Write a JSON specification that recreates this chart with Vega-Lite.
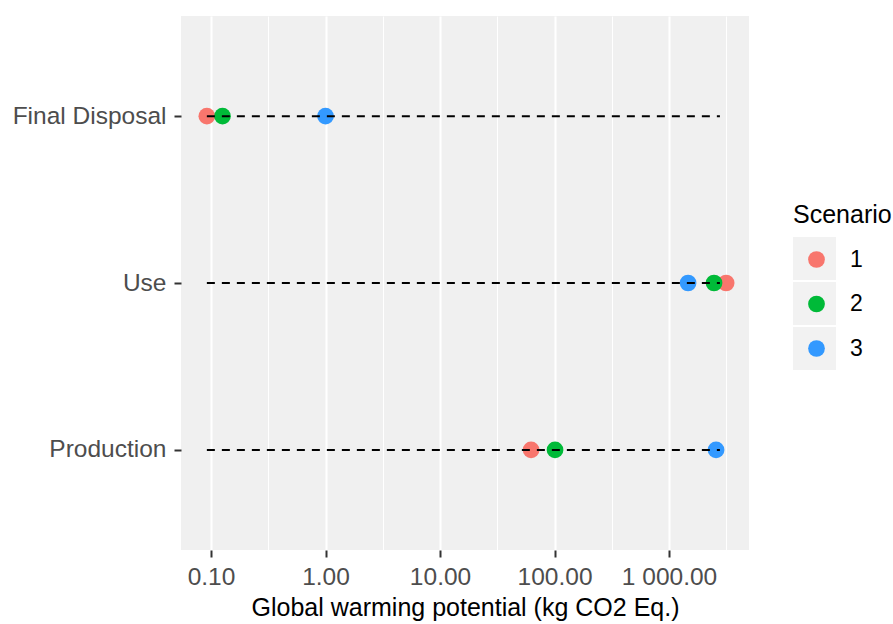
{
  "$schema": "https://vega.github.io/schema/vega-lite/v6.json",
  "autosize": {"type": "none"},
  "padding": {"left": 181, "top": 16, "right": 144, "bottom": 74},
  "width": 568,
  "height": 534,
  "background": "white",
  "config": {
    "font": "Liberation Sans",
    "view": {"fill": "#F0F0F0", "stroke": null},
    "axis": {"domain": false, "gridColor": "white", "tickColor": "#333333", "tickWidth": 2, "tickSize": 7, "labelColor": "#4D4D4D", "labelFontSize": 24.5, "titleColor": "black", "titleFontSize": 25, "titleFontWeight": "normal"}
  },
  "datasets": {
    "points": [
      {"stage": "Final Disposal", "Scenario": "1", "value": 0.092},
      {"stage": "Final Disposal", "Scenario": "2", "value": 0.126},
      {"stage": "Final Disposal", "Scenario": "3", "value": 1.0},
      {"stage": "Use", "Scenario": "1", "value": 3150},
      {"stage": "Use", "Scenario": "2", "value": 2470},
      {"stage": "Use", "Scenario": "3", "value": 1466},
      {"stage": "Production", "Scenario": "1", "value": 62.4},
      {"stage": "Production", "Scenario": "2", "value": 101},
      {"stage": "Production", "Scenario": "3", "value": 2573}
    ],
    "segments": [
      {"stage": "Final Disposal", "from": 0.092, "to": 2780},
      {"stage": "Use", "from": 0.092, "to": 2780},
      {"stage": "Production", "from": 0.092, "to": 2780}
    ]
  },
  "layer": [
    {
      "data": {"name": "points"},
      "mark": {"type": "square", "opacity": 1, "size": 100},
      "encoding": {
        "x": {
          "field": "value", "type": "quantitative",
          "scale": {"type": "log", "domain": [0.0547, 4990], "nice": false, "zero": false},
          "axis": {
            "title": "Global warming potential (kg CO2 Eq.)",
            "values": [0.1, 0.31623, 1, 3.1623, 10, 31.623, 100, 316.23, 1000, 3162.3],
            "labelExpr": "abs(log(datum.value)/LN10 - round(log(datum.value)/LN10)) < 0.01 ? replace(format(datum.value, ',.2f'), ',', ' ') : ''",
            "gridWidth": {"condition": {"test": "abs(log(datum.value)/LN10 - round(log(datum.value)/LN10)) < 0.01", "value": 2}, "value": 1},
            "tickOpacity": {"condition": {"test": "abs(log(datum.value)/LN10 - round(log(datum.value)/LN10)) < 0.01", "value": 1}, "value": 0},
            "labelPadding": 8,
            "titlePadding": 7,
            "labelFlush": false,
            "labelOverlap": false
          }
        },
        "y": {
          "field": "stage", "type": "nominal",
          "sort": ["Final Disposal", "Use", "Production"],
          "scale": {"type": "point", "padding": 0.6},
          "axis": {"title": null, "gridWidth": 2, "labelPadding": 8}
        },
        "color": {
          "field": "Scenario", "type": "nominal",
          "scale": {"range": ["#F2F2F2", "#F2F2F2", "#F2F2F2"]},
          "legend": {
            "orient": "none", "legendX": 612, "legendY": 221,
            "title": null, "labelExpr": "''", "labelFontSize": 1,
            "symbolSize": 1849, "symbolType": "square", "symbolStrokeWidth": 0,
            "rowPadding": 2, "zindex": 0
          }
        }
      }
    },
    {
      "data": {"name": "points"},
      "mark": {"type": "circle", "opacity": 1, "size": 280},
      "encoding": {
        "x": {"field": "value", "type": "quantitative"},
        "y": {"field": "stage", "type": "nominal", "sort": ["Final Disposal", "Use", "Production"]},
        "fill": {
          "field": "Scenario", "type": "nominal",
          "scale": {"domain": ["1", "2", "3"], "range": ["#F8766D", "#00BA38", "#3399FF"]},
          "legend": {
            "orient": "none", "legendX": 612, "legendY": 187,
            "title": "Scenario", "titleFontSize": 25, "titleFontWeight": "normal", "titleColor": "black",
            "labelFontSize": 23, "labelColor": "black",
            "symbolSize": 280, "symbolType": "circle", "symbolOffset": 12,
            "labelOffset": 22, "rowPadding": 20.5, "titlePadding": 20, "zindex": 1
          }
        }
      }
    },
    {
      "data": {"name": "segments"},
      "mark": {"type": "rule", "color": "black", "strokeWidth": 2, "strokeDash": [8, 7]},
      "encoding": {
        "x": {"field": "from", "type": "quantitative"},
        "x2": {"field": "to"},
        "y": {"field": "stage", "type": "nominal", "sort": ["Final Disposal", "Use", "Production"]}
      }
    }
  ]
}
